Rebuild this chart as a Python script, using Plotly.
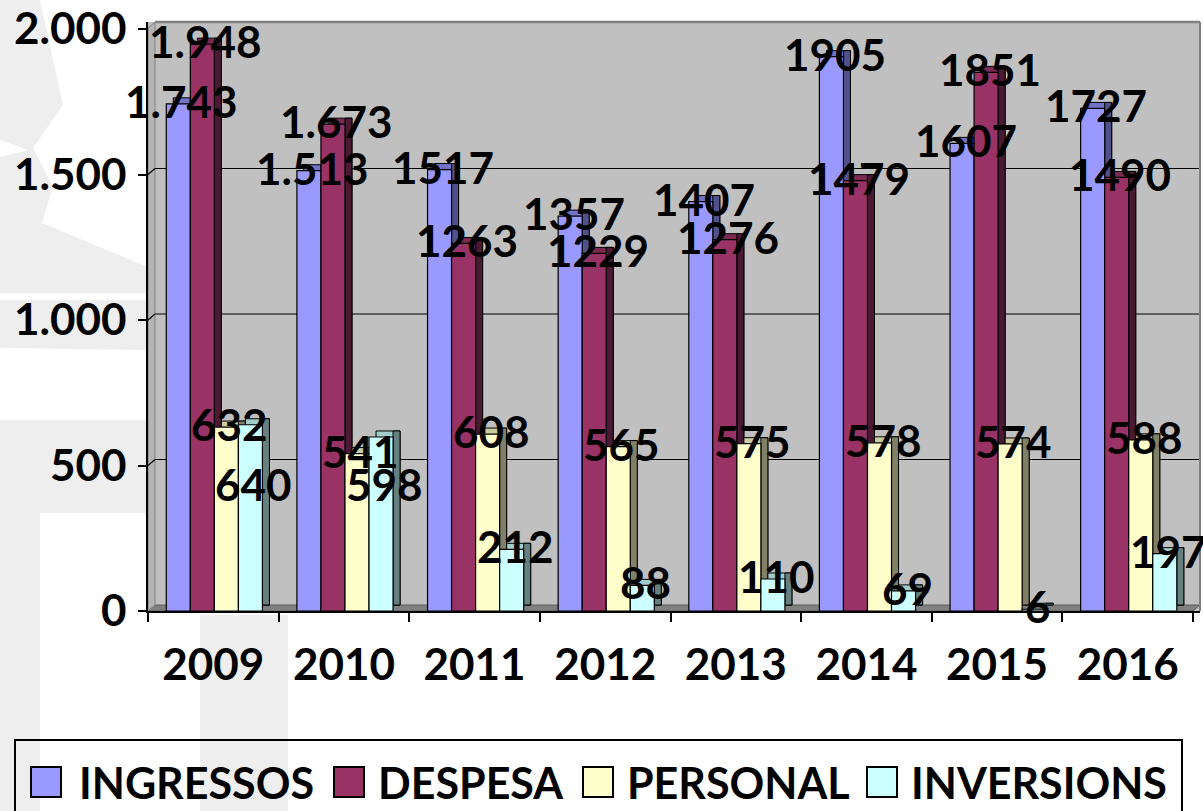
import plotly.graph_objects as go

# ---------------- data ----------------
YEARS = ["2009", "2010", "2011", "2012", "2013", "2014", "2015", "2016"]
SERIES = ["INGRESSOS", "DESPESA", "PERSONAL", "INVERSIONS"]
INGRESSOS = [1743, 1513, 1517, 1357, 1407, 1905, 1607, 1727]
DESPESA = [1948, 1673, 1263, 1229, 1276, 1479, 1851, 1490]
PERSONAL = [632, 541, 608, 565, 575, 578, 574, 588]
INVERSIONS = [640, 598, 212, 88, 110, 69, 6, 197]
LBL_INGRESSOS = ["1.743", "1.513", "1517", "1357", "1407", "1905", "1607", "1727"]
LBL_DESPESA = ["1.948", "1.673", "1263", "1229", "1276", "1479", "1851", "1490"]
LBL_PERSONAL = ["632", "541", "608", "565", "575", "578", "574", "588"]
LBL_INVERSIONS = ["640", "598", "212", "88", "110", "69", "6", "197"]
Y_TICKS = [0, 500, 1000, 1500, 2000]

# ---------------- style ----------------
W, H = 1203, 811
ML, MR, MT, MB = 148, 3, 22, 200
PW, PH = W - ML - MR, H - MT - MB
PX_PER_CAT = 130.625
PX_PER_UNIT = 0.291
DX_PX, DY_PX = 7, 6
DXU = DX_PX / PX_PER_CAT
DYU = DY_PX / PX_PER_UNIT
X_RANGE = [-0.5, -0.5 + PW / PX_PER_CAT]
Y_RANGE = [0, PH / PX_PER_UNIT]
BAR_W = 0.184
GROUP_LEFT = -0.36
FRONT = ["#9999FF", "#993366", "#FFFFCC", "#CCFFFF"]
TOPC = ["#7373C6", "#7A2950", "#CCCCA3", "#A3CCCC"]
SIDE = ["#50508A", "#4A1A33", "#808066", "#668080"]
FONT = dict(family="Lato", size=44, color="black", weight="bold")
TICKFONT = dict(family="Lato", size=44, color="black", weight="bold")
LEGFONT = dict(family="Lato", size=43, color="black", weight="bold")
# extra pixel nudges for the labels (manually moved in the original)
NUDGE_INVERSIONS = [-62, -50, 0, 0, 0, 0, 0, 0]
# legend layout (pixels)
LEG_BOX = (15, 740, 1182, 816)
LEG_SWATCH_X = [31, 334, 583, 867]
LEG_TEXT_X = [77, 376, 625, 909]
LEG_SW = 30
LEG_CY = 782

values = [INGRESSOS, DESPESA, PERSONAL, INVERSIONS]
labels = [LBL_INGRESSOS, LBL_DESPESA, LBL_PERSONAL, LBL_INVERSIONS]
nudges = [[0] * len(YEARS), [0] * len(YEARS), [0] * len(YEARS), NUDGE_INVERSIONS]
xs = list(range(len(YEARS)))

fig = go.Figure()
for i, name in enumerate(SERIES):
    off = GROUP_LEFT + i * BAR_W
    # 3-D top/back face
    fig.add_trace(go.Bar(x=xs, y=values[i], base=DYU, offset=off + DXU, width=BAR_W,
                         marker=dict(color=TOPC[i], line=dict(color="black", width=1)),
                         showlegend=False, hoverinfo="skip"))
    # 3-D side face
    fig.add_trace(go.Bar(x=xs, y=values[i], base=DYU, offset=off + BAR_W, width=DXU,
                         marker=dict(color=SIDE[i], line=dict(color="black", width=1)),
                         showlegend=False, hoverinfo="skip"))
    # front face
    fig.add_trace(go.Bar(x=xs, y=values[i], offset=off, width=BAR_W, name=name,
                         showlegend=False,
                         marker=dict(color=FRONT[i], line=dict(color="black", width=1.2))))

annotations = []
for i in range(len(SERIES)):
    off = GROUP_LEFT + i * BAR_W
    for k, v in enumerate(values[i]):
        annotations.append(dict(x=k + off + BAR_W / 2 + DXU / 2, y=v + DYU / 2,
                                xref="x", yref="y", text=labels[i][k], showarrow=False,
                                xanchor="center", yanchor="middle", font=FONT,
                                yshift=nudges[i][k]))


def px(x):
    return (x - ML) / PW


def py(y):
    return (MT + PH - y) / PH


def path(points):
    return "M " + " L ".join(f"{px(a):.5f},{py(b):.5f}" for a, b in points) + " Z"


WM = "#EEEEEE"
shapes = []
# watermark shapes outside the plot
for pts in [
    [(0, 0), (40, 0), (63, 105), (33, 148), (53, 187), (42, 223), (148, 267), (148, 293),
     (0, 293), (0, 157), (28, 150), (0, 140)],
    [(0, 300), (148, 300), (148, 350), (0, 348)],
    [(0, 420), (148, 420), (148, 513), (40, 513), (40, 811), (0, 811)],
    [(200, 615), (288, 615), (288, 811), (200, 811)],
]:
    shapes.append(dict(type="path", xref="paper", yref="paper", path=path(pts),
                       fillcolor=WM, line=dict(width=0), layer="below"))
# 3-D floor
x0p, x1p = ML, ML + 8 * PX_PER_CAT
shapes.append(dict(type="path", xref="paper", yref="paper",
                   path=path([(x0p, MT + PH), (x1p, MT + PH), (x1p + DX_PX, MT + PH - DY_PX),
                              (x0p + DX_PX, MT + PH - DY_PX)]),
                   fillcolor="#808080", line=dict(color="#606060", width=1), layer="below"))
# left side wall
shapes.append(dict(type="path", xref="paper", yref="paper",
                   path=path([(x0p, MT + PH), (x0p + DX_PX, MT + PH - DY_PX), (x0p + DX_PX, MT),
                              (x0p, MT + DY_PX)]),
                   fillcolor="#B4B4B4", line=dict(color="#808080", width=1), layer="below"))
# gridlines on the back wall
for v in Y_TICKS[1:-1]:
    shapes.append(dict(type="line", xref="paper", yref="y", x0=px(ML + DX_PX), x1=1,
                       y0=v + DYU, y1=v + DYU, line=dict(color="black", width=1.2),
                       layer="below"))
    shapes.append(dict(type="line", xref="x", yref="y", x0=X_RANGE[0], x1=X_RANGE[0] + DXU,
                       y0=v, y1=v + DYU, line=dict(color="black", width=1.2), layer="below"))
# wall border
shapes.append(dict(type="line", xref="paper", yref="paper", x0=px(ML + DX_PX), x1=1, y0=1, y1=1,
                   line=dict(color="#808080", width=2.5)))
shapes.append(dict(type="line", xref="paper", yref="paper", x0=1, x1=1, y0=0, y1=1,
                   line=dict(color="#808080", width=2)))

# legend (drawn as a framed key below the chart)
bx0, by0, bx1, by1 = LEG_BOX
shapes.append(dict(type="rect", xref="paper", yref="paper", x0=px(bx0), x1=px(bx1),
                   y0=py(by1), y1=py(by0), line=dict(color="black", width=2),
                   fillcolor="rgba(0,0,0,0)"))
for i, name in enumerate(SERIES):
    sx = LEG_SWATCH_X[i]
    shapes.append(dict(type="rect", xref="paper", yref="paper",
                       x0=px(sx), x1=px(sx + LEG_SW),
                       y0=py(LEG_CY + LEG_SW / 2), y1=py(LEG_CY - LEG_SW / 2),
                       fillcolor=FRONT[i], line=dict(color="black", width=2)))
    annotations.append(dict(x=px(LEG_TEXT_X[i]), y=py(LEG_CY), xref="paper", yref="paper",
                            text=name, showarrow=False, xanchor="left", yanchor="middle",
                            font=LEGFONT))

fig.update_layout(
    width=W, height=H,
    margin=dict(l=ML, r=MR, t=MT, b=MB, pad=0, autoexpand=False),
    paper_bgcolor="white", plot_bgcolor="#C0C0C0",
    barmode="overlay", separators=",.",
    font=FONT,
    shapes=shapes, annotations=annotations,
    showlegend=False,
    xaxis=dict(range=X_RANGE, tickmode="array", tickvals=xs, ticktext=YEARS,
               ticks="", showgrid=False, zeroline=False, automargin=False,
               showline=True, linecolor="black", linewidth=1.5,
               tickfont=TICKFONT, ticklabelstandoff=14,
               minor=dict(tickmode="array",
                          tickvals=[k - 0.5 for k in range(len(YEARS) + 1)],
                          ticks="outside", ticklen=9, tickcolor="black", tickwidth=1.5,
                          showgrid=False)),
    yaxis=dict(range=Y_RANGE, tickmode="array", tickvals=Y_TICKS, tickformat=",d",
               ticks="outside", ticklen=8, tickcolor="black", tickwidth=1.5,
               showgrid=False, zeroline=False, automargin=False,
               showline=True, linecolor="black", linewidth=1.5, tickfont=TICKFONT,
               ticklabelstandoff=3),
)

fig.write_html(
    "out.html",
    config={"displayModeBar": False},
    post_script="document.body.style.margin='0';document.body.style.overflow='hidden';",
)
